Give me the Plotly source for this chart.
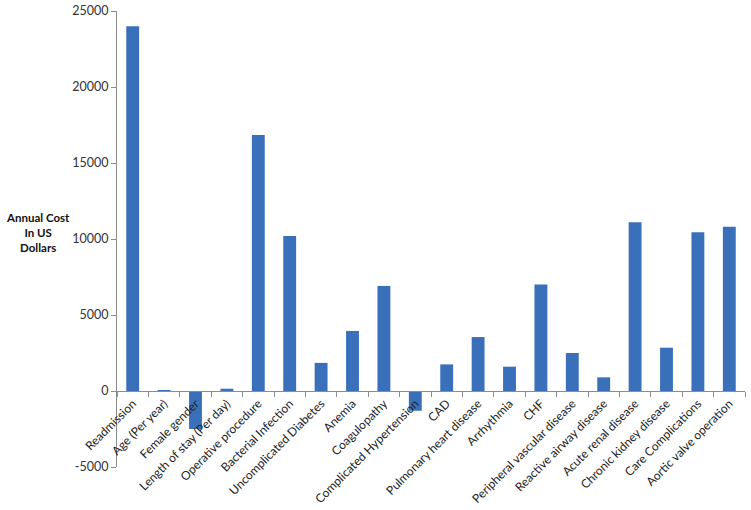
import plotly.graph_objects as go

categories = ["Readmission", "Age (Per year)", "Female gender", "Length of stay (Per day)",
              "Operative procedure", "Bacterial Infection", "Uncomplicated Diabetes", "Anemia",
              "Coagulopathy", "Complicated Hypertension", "CAD", "Pulmonary heart disease",
              "Arrhythmia", "CHF", "Peripheral vascular disease", "Reactive airway disease",
              "Acute renal disease", "Chronic kidney disease", "Care Complications",
              "Aortic valve operation"]
values = [24000, 20, -2500, 150, 16850, 10200, 1850, 3950, 6900, -1300, 1750, 3550,
          1600, 7000, 2500, 900, 11100, 2850, 10450, 10800]
y_ticks = [-5000, 0, 5000, 10000, 15000, 20000, 25000]
y_tick_labels = ["-5000", "0", "5000", "10000", "15000", "20000", "25000"]

ymin, ymax = -5000, 25000

fig = go.Figure(go.Bar(
    x=categories, y=values,
    marker=dict(color="#3a70ba", line=dict(width=0)),
    width=0.41,
))

fig.update_layout(
    width=751, height=510,
    margin=dict(l=117, r=6, t=11, b=43),
    plot_bgcolor="white", paper_bgcolor="white",
    showlegend=False,
    font=dict(family="Lato", size=12, color="#222222"),
    xaxis=dict(
        type="category",
        anchor="free", position=(0 - ymin) / (ymax - ymin),
        showline=True, linecolor="#8c8c8c", linewidth=1,
        ticks="outside", ticklen=5, tickcolor="#8c8c8c", tickson="boundaries",
        tickangle=-45, showgrid=False, automargin=False,
        tickfont=dict(size=12),
    ),
    yaxis=dict(
        range=[ymin, ymax], tickvals=y_ticks, ticktext=y_tick_labels,
        showline=True, linecolor="#8c8c8c", linewidth=1,
        ticks="outside", ticklen=5, tickcolor="#8c8c8c",
        showgrid=False, zeroline=False, automargin=False,
        ticklabeloverflow="allow",
        tickfont=dict(size=12.5, color="#333333"),
    ),
    annotations=[dict(
        text="<b>Annual Cost<br>In US<br>Dollars</b>",
        xref="paper", yref="paper", x=-0.126, y=0.515, xanchor="center", yanchor="middle",
        showarrow=False, font=dict(size=11.5, color="#111111"), align="center",
    )],
)

fig.write_html("out.html", config={"displayModeBar": False},
               post_script="document.body.style.margin='0';")
